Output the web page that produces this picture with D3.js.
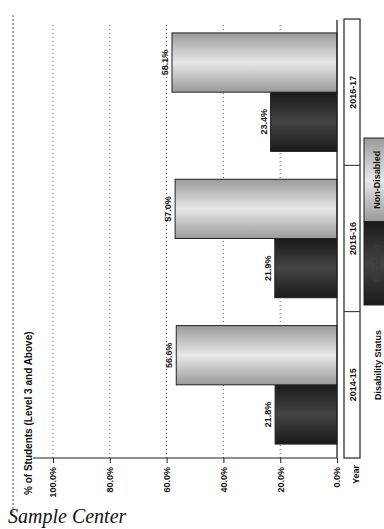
<!DOCTYPE html>
<html>
<head>
<meta charset="utf-8">
<script src="https://cdn.jsdelivr.net/npm/d3@7"></script>
<style>
html,body{margin:0;padding:0;background:#fff;overflow:hidden;}
svg{display:block;}
text{font-family:"Liberation Sans","DejaVu Sans",Arial,sans-serif;}
text.serif{font-family:"Liberation Serif","DejaVu Serif",serif;}
</style>
</head>
<body>
<svg id="chart" width="384" height="529"></svg>
<script>
const years = ["2014-15", "2015-16", "2016-17"];
const series = ["Disabled", "Non-Disabled"];
const disabledValues = [21.8, 21.9, 23.4];
const nonDisabledValues = [56.6, 57.0, 58.1];
const tickValues = [0, 20, 40, 60, 80, 100];
const axisTitle = "% of Students (Level 3 and Above)";
const legendTitle = "Disability Status";
const tableTitle = "Year";
const footer = "Sample Center";

const valuesBySeries = {"Disabled": disabledValues, "Non-Disabled": nonDisabledValues};

const svg = d3.select("#chart");
const W = 529; // inner (unrotated) width = page height
const defs = svg.append("defs");

function grad(id, edge, mid) {
  const g = defs.append("linearGradient").attr("id", id)
    .attr("x1", "0").attr("y1", "0").attr("x2", "1").attr("y2", "0");
  g.append("stop").attr("offset", "0%").attr("stop-color", edge);
  g.append("stop").attr("offset", "50%").attr("stop-color", mid);
  g.append("stop").attr("offset", "100%").attr("stop-color", edge);
}
grad("gDark", "#1a1a1a", "#444");
grad("gLight", "#9a9a9a", "#e8e8e8");
const fills = {"Disabled": "url(#gDark)", "Non-Disabled": "url(#gLight)"};

// rotated plotting group: inner x -> screen up, inner y -> screen x
const g = svg.append("g").attr("transform", `translate(0,${W}) rotate(-90)`);

const y = d3.scaleLinear().domain([0, 100]).range([337, 53]);
const x0 = d3.scaleBand().domain(years).range([71, 510]).padding(0);
const x1 = d3.scaleBand().domain(series).range([0, x0.bandwidth()])
  .paddingInner(0).paddingOuter(0.235);

// dashed outer border (top of unrotated chart)
g.append("line").attr("x1", 16).attr("x2", 516).attr("y1", 13).attr("y2", 13)
  .attr("stroke", "#555").attr("stroke-width", 1).attr("stroke-dasharray", "2,2");

// gridlines
g.append("g").selectAll("line").data(tickValues.filter(d => d > 0)).join("line")
  .attr("x1", 71).attr("x2", 506)
  .attr("y1", d => y(d)).attr("y2", d => y(d))
  .attr("stroke", "#666").attr("stroke-width", 1).attr("stroke-dasharray", "1,3");

// value axis
const axis = g.append("g").attr("transform", "translate(71,0)")
  .call(d3.axisLeft(y).tickValues(tickValues).tickFormat(d => d3.format(".1f")(d) + "%")
    .tickSize(5).tickPadding(4));
axis.select(".domain").remove();
axis.selectAll("line").attr("stroke", "#222");
axis.selectAll("text").attr("font-size", 9).attr("font-weight", "bold").attr("fill", "#111");
g.append("line").attr("x1", 71).attr("x2", 71).attr("y1", y(0)).attr("y2", 33)
  .attr("stroke", "#222").attr("stroke-width", 1.2);

// axis title
g.append("text").attr("x", 34).attr("y", 32)
  .attr("font-size", 10).attr("font-weight", "bold").attr("fill", "#111")
  .text(axisTitle);

// bars
const groups = g.append("g").selectAll("g").data(years).join("g")
  .attr("transform", d => `translate(${x0(d)},0)`);
groups.selectAll("rect").data((d, i) => series.map(s => ({s, v: valuesBySeries[s][i]}))).join("rect")
  .attr("x", d => x1(d.s)).attr("width", x1.bandwidth())
  .attr("y", d => y(d.v)).attr("height", d => y(0) - y(d.v))
  .attr("fill", d => fills[d.s]).attr("stroke", "#222").attr("stroke-width", 1);
groups.selectAll("text").data((d, i) => series.map(s => ({s, v: valuesBySeries[s][i]}))).join("text")
  .attr("x", d => x1(d.s) + x1.bandwidth() / 2).attr("y", d => y(d.v) - 4)
  .attr("text-anchor", "middle").attr("font-size", 9).attr("font-weight", "bold").attr("fill", "#111")
  .text(d => d.v.toFixed(1) + "%");

// baseline (0%)
g.append("line").attr("x1", 71).attr("x2", 509).attr("y1", y(0)).attr("y2", y(0))
  .attr("stroke", "#222").attr("stroke-width", 1.3);

// year table
g.append("rect").attr("x", 71).attr("y", 344).attr("width", 510 - 71).attr("height", 16)
  .attr("fill", "#fff").attr("stroke", "#222").attr("stroke-width", 1.2);
g.append("g").selectAll("line").data(years.slice(1)).join("line")
  .attr("x1", d => x0(d)).attr("x2", d => x0(d)).attr("y1", 344).attr("y2", 360)
  .attr("stroke", "#222").attr("stroke-width", 1);
g.append("g").selectAll("text").data(years).join("text")
  .attr("x", d => x0(d) + x0.bandwidth() / 2).attr("y", 356)
  .attr("text-anchor", "middle").attr("font-size", 9).attr("font-weight", "bold").attr("fill", "#111")
  .text(d => d);
g.append("text").attr("x", 64).attr("y", 359).attr("text-anchor", "end")
  .attr("font-size", 9).attr("font-weight", "bold").attr("fill", "#111").text(tableTitle);

// legend
g.append("text").attr("x", 129).attr("y", 381)
  .attr("font-size", 9).attr("font-weight", "bold").attr("fill", "#111").text(legendTitle);
const legendX = d3.scaleBand().domain(series).range([224, 391]);
const leg = g.append("g").selectAll("g").data(series).join("g");
leg.append("rect").attr("x", d => legendX(d)).attr("y", 364)
  .attr("width", legendX.bandwidth()).attr("height", 28)
  .attr("fill", d => fills[d]).attr("stroke", "#222").attr("stroke-width", 1);
leg.append("text").attr("x", d => legendX(d) + legendX.bandwidth() / 2).attr("y", 380)
  .attr("text-anchor", "middle").attr("font-size", 9).attr("font-weight", "bold")
  .attr("fill", d => d === "Disabled" ? "#3a3a3a" : "#111").text(d => d);

// footer
svg.append("text").attr("class", "serif").attr("x", 8).attr("y", 523)
  .attr("font-style", "italic").attr("font-size", 20).attr("fill", "#111").text(footer);
</script>
</body>
</html>
